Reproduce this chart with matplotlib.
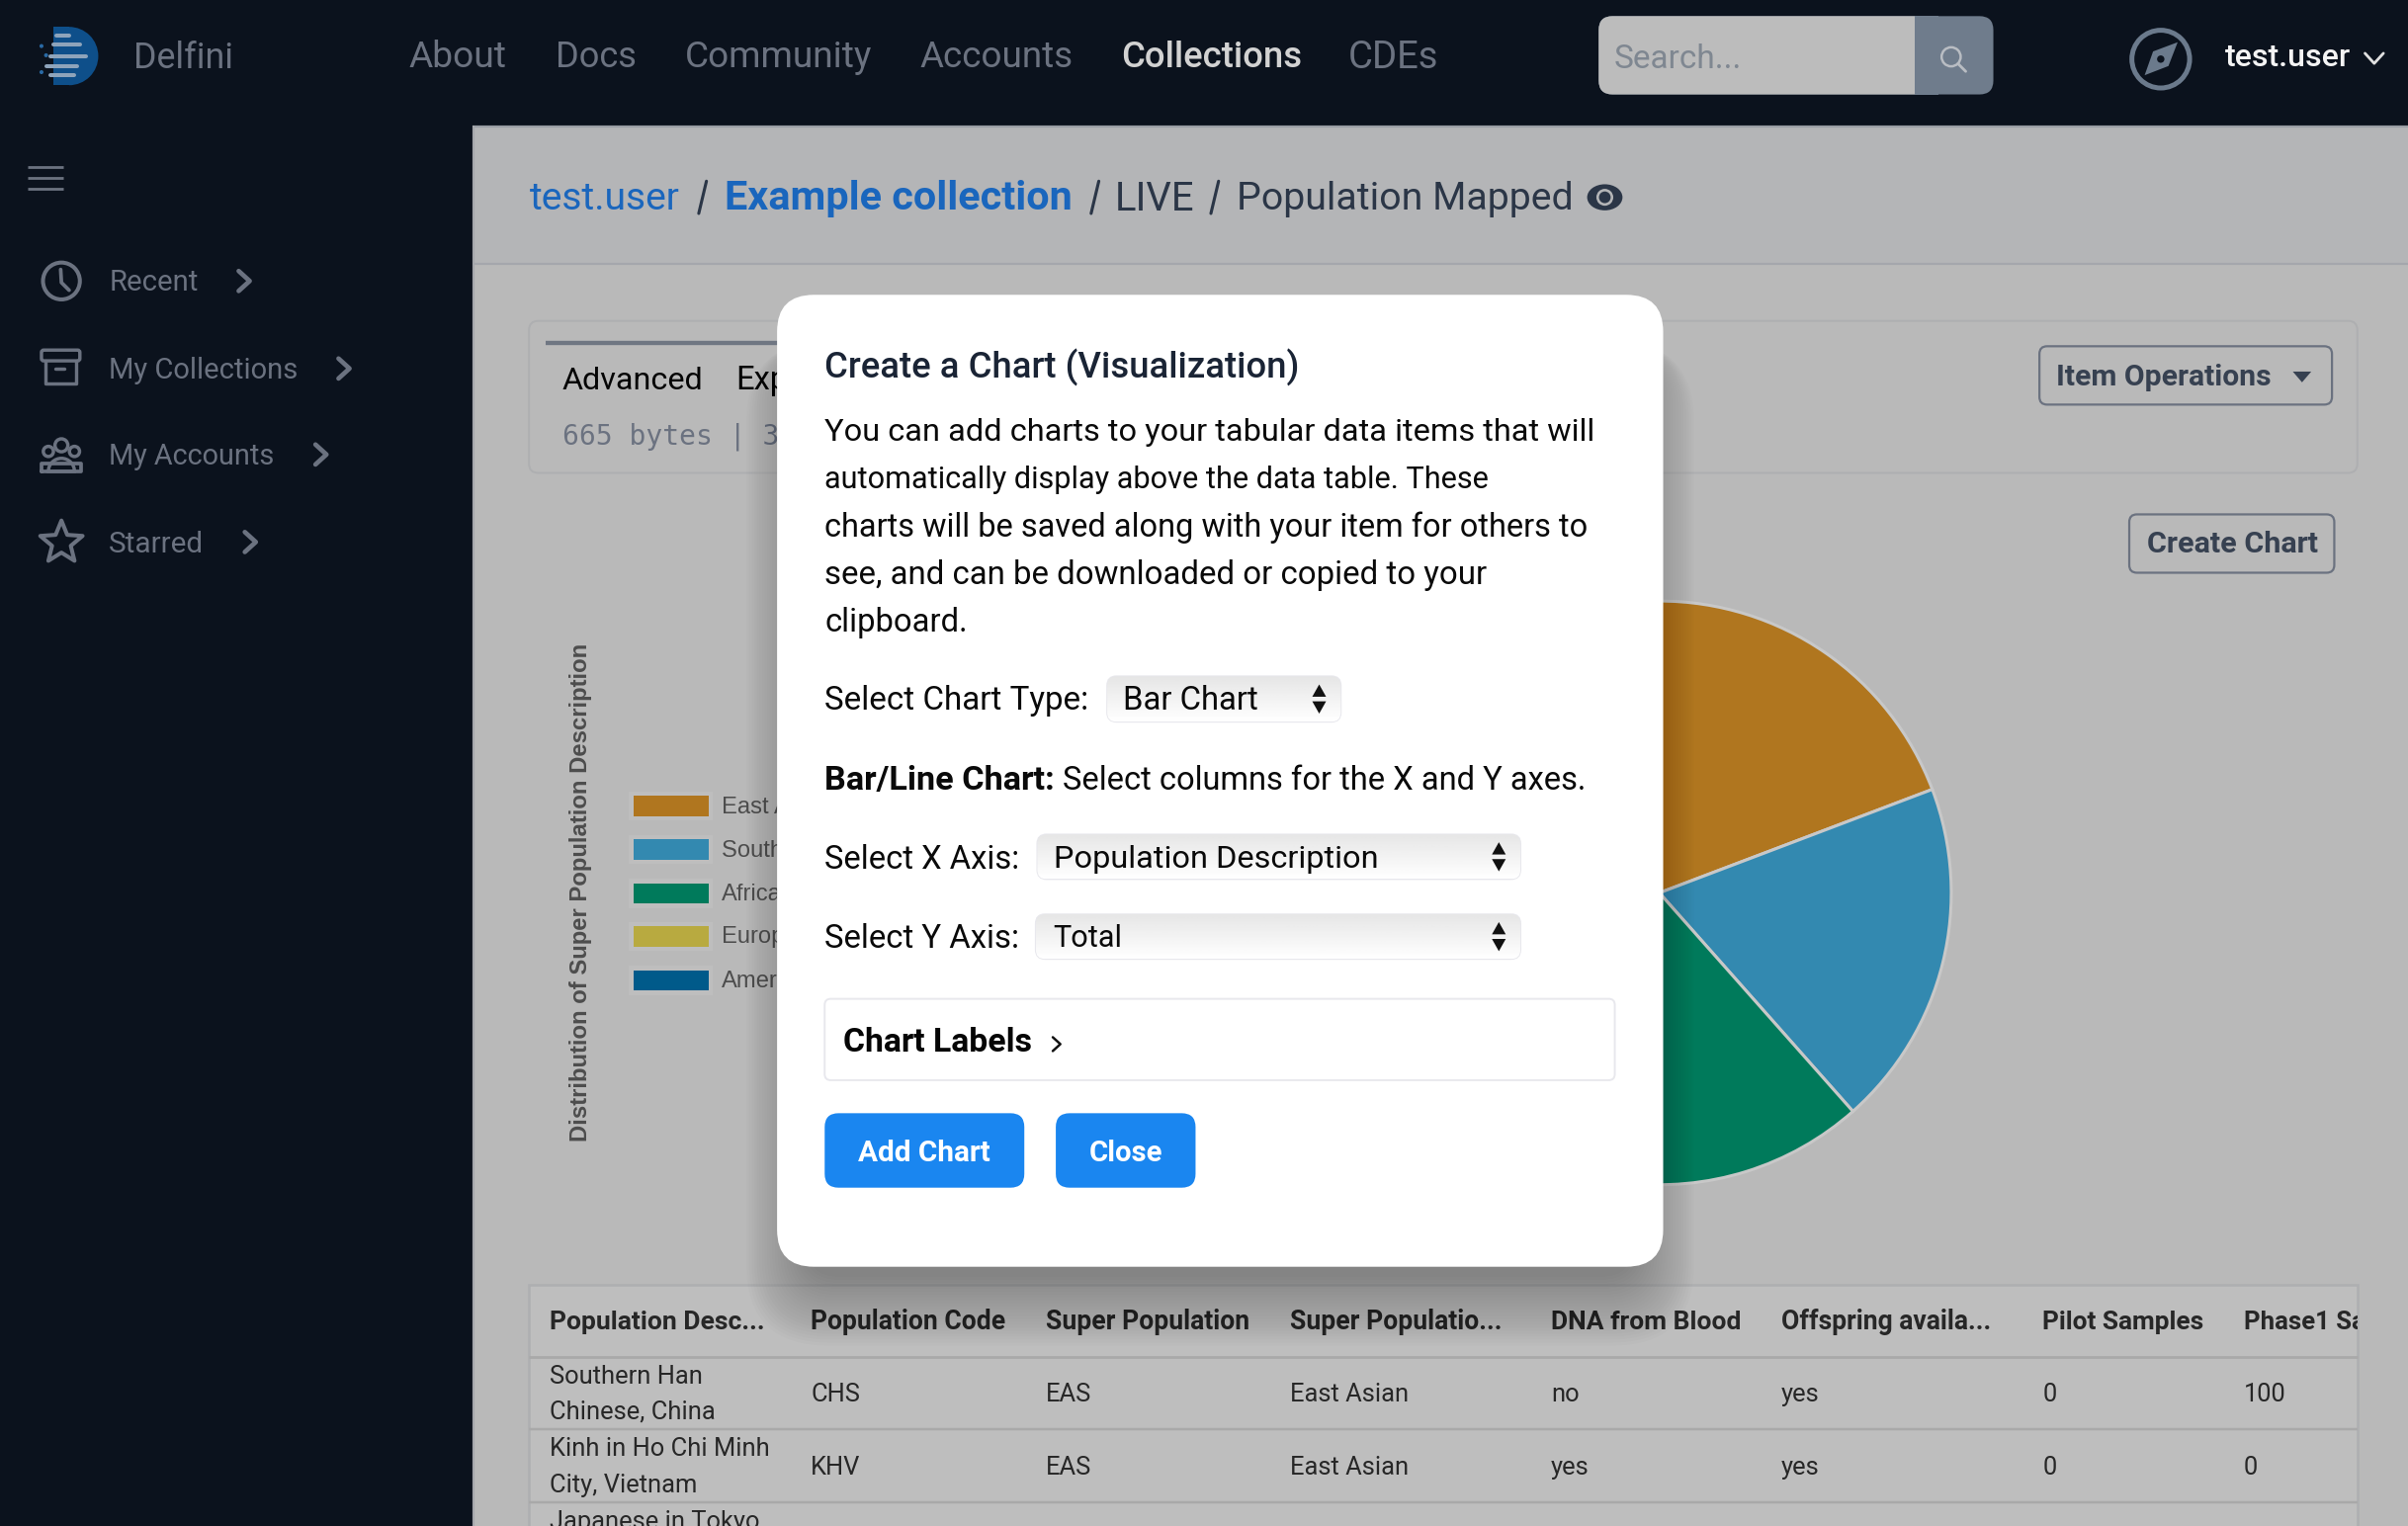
import numpy as np
import matplotlib
matplotlib.use("Agg")
import matplotlib.pyplot as plt
from matplotlib.patches import FancyBboxPatch, Rectangle, Circle, Wedge, Polygon, Ellipse

# ---------- chart data ----------
super_populations = ["East Asian", "South Asian", "African", "European", "American"]
population_counts = [5, 5, 7, 5, 4]
pie_colors = ["#b0761f", "#3389b0", "#007a5b", "#b8aa40", "#005a8a"]
chart_title = "Distribution of Super Population Description"

# ---------- interface text ----------
nav_labels = ["About", "Docs", "Community", "Accounts", "Collections", "CDEs"]
side_labels = ["Recent", "My Collections", "My Accounts", "Starred"]
modal_body = ["You can add charts to your tabular data items that will",
              "automatically display above the data table. These",
              "charts will be saved along with your item for others to",
              "see, and can be downloaded or copied to your",
              "clipboard."]
table_head = ["Population Desc...", "Population Code", "Super Population", "Super Populatio...",
              "DNA from Blood", "Offspring availa...", "Pilot Samples", "Phase1 Samples"]
row_1 = ["CHS", "EAS", "East Asian", "no", "yes", "0", "100"]
row_2 = ["KHV", "EAS", "East Asian", "yes", "yes", "0", "0"]

W, H = 2436, 1544
S = W / 1568.0          # reference layout was measured in 1568-wide units
DW, DH = 1568.0, H / S

UI = ["Roboto", "DejaVu Sans"]
plt.rcParams["font.family"] = UI
fig = plt.figure(figsize=(W / 100, H / 100), dpi=100, facecolor="#b9b9b9")
rend = fig.canvas.get_renderer()


def layer(z):
    a = fig.add_axes([0, 0, 1, 1], zorder=z)
    a.set_xlim(0, DW)
    a.set_ylim(DH, 0)
    a.axis("off")
    return a


bg = layer(0)
top = layer(2)


def T(ax, x, y, s, size=20, color="k", weight="normal", ha="left", va="center", w=None, family=None, **kw):
    fam = family or UI
    kw.setdefault("zorder", 6)
    off = 0.6 if size < 17 else 1.4
    t = ax.text(x, y + off, s, fontsize=size * S * 0.72, color=color, fontweight=weight,
                ha=ha, va=va, family=fam, **kw)
    if w is not None:
        bb = t.get_window_extent(rend)
        cur = max(bb.width, bb.height) / S
        t.set_fontsize(t.get_fontsize() * w / cur)
    return t


def R(ax, x0, y0, x1, y1, fc="none", ec="none", lw=0, rad=0, z=2, alpha=None):
    if rad:
        p = FancyBboxPatch((x0, y0), x1 - x0, y1 - y0, boxstyle=f"round,pad=0,rounding_size={rad}",
                           fc=fc, ec=ec, lw=lw, zorder=z, alpha=alpha)
    else:
        p = Rectangle((x0, y0), x1 - x0, y1 - y0, fc=fc, ec=ec, lw=lw, zorder=z, alpha=alpha)
    ax.add_patch(p)
    return p


def L(ax, xs, ys, color, lw=2.0, z=3, cap="round"):
    ax.plot(xs, ys, color=color, lw=lw * S * 0.72, zorder=z, solid_capstyle=cap, solid_joinstyle="round")


def chev(ax, x, y, color, s=5, lw=2.6, right=True):
    if right:
        L(ax, [x - s * 0.55, x + s * 0.55, x - s * 0.55], [y - s, y, y + s], color, lw)
    else:
        L(ax, [x - s, x, x + s], [y - s * 0.55, y + s * 0.55, y - s * 0.55], color, lw)


DARK = "#0b121d"
GREY = "#6b7280"

# ---------- page frame ----------
R(bg, 0, 0, DW, 82, fc=DARK, z=1)
R(bg, 0, 0, 308, DH, fc=DARK, z=1)
R(bg, 308, 82, DW, 172, fc="#b4b5b7", z=1)
L(bg, [308, DW], [82.5, 82.5], "#9a9ea5", 1.4, z=2, cap="butt")
L(bg, [308, DW], [172, 172], "#a5a7ac", 1.4, z=2, cap="butt")
L(bg, [308.5, 308.5], [82, DH], "#a5a7ac", 1.4, z=2, cap="butt")

# logo
bg.add_patch(Wedge((45, 36.5), 19, -90, 90, fc="#0e4f8a", zorder=3))
R(bg, 35, 17.5, 45, 55.5, fc="#0e4f8a", z=3)
for yy, a, b in [(23, 37, 45), (29, 35, 52), (36.5, 33, 56), (43, 30, 50), (49, 33, 48)]:
    L(bg, [a, b], [yy, yy], "#8ea4bb", 2.6, z=4)
for xx, yy in [(27, 30), (30, 36), (27, 47)]:
    bg.add_patch(Circle((xx, yy), 1.3, fc="#2a6aa5", zorder=4))

T(bg, 87, 36.5, "Delfini", 24, GREY, w=65)
nav_x = [266, 362, 446, 599, 730, 878]
nav_w = [64, 53, 122, 100, 118, 59]
for lab, x, wd in zip(nav_labels, nav_x, nav_w):
    act = lab == "Collections"
    T(bg, x, 36, lab, 23, "#d2d2d2" if act else GREY, weight="medium" if act else "normal", w=wd)

# search
R(bg, 1041, 10.5, 1298, 61.5, fc="#6f7c8c", rad=9, z=3)
R(bg, 1041, 10.5, 1260, 61.5, fc="#bcbcbc", rad=9, z=3)
R(bg, 1247, 10.5, 1262, 61.5, fc="#6f7c8c", z=3)
T(bg, 1051, 37, "Search...", 21, "#7f8791", w=83)
bg.add_patch(Circle((1270.5, 37), 6.2, fc="none", ec="#b9bdc3", lw=1.6 * S * .72, zorder=4))
L(bg, [1275, 1280], [41.5, 46.5], "#b9bdc3", 1.8, z=4)

# compass and user
bg.add_patch(Circle((1407, 38.5), 18.8, fc="none", ec="#6b7a8c", lw=3.2 * S * .72, zorder=4))
bg.add_patch(Polygon([(1418, 27.5), (1412, 43), (1396.5, 49), (1402, 33.5)], fc="#6b7a8c", zorder=4))
bg.add_patch(Circle((1407, 38.5), 2.4, fc=DARK, zorder=5))
T(bg, 1449, 36.5, "test.user", 21, "#f4f4f4", weight="medium", w=82)
chev(bg, 1546, 38, "#e0e0e0", s=6, lw=1.8, right=False)

# sidebar
for yy in (108.7, 115.8, 122.9):
    L(bg, [18, 41], [yy, yy], GREY, 1.8, cap="butt")
side_y = [183, 240, 296, 353]
side_w = [58, 123, 108, 62]
side_chev = [159, 224, 209, 163]
for lab, yy, wd, cx in zip(side_labels, side_y, side_w, side_chev):
    T(bg, 71, yy, lab, 19, GREY, w=wd)
    chev(bg, cx, yy, GREY, s=6.5, lw=3.0)
# clock
bg.add_patch(Circle((40, 183), 12, fc="none", ec=GREY, lw=2.6 * S * .72, zorder=3))
L(bg, [39.5, 40, 45], [175.5, 184, 189], GREY, 2.4)
# archive box
R(bg, 27, 228, 52, 235, ec=GREY, lw=2.2 * S * .72, rad=1.5, z=3)
L(bg, [29.5, 29.5, 49.5, 49.5], [235, 250, 250, 235], GREY, 2.2)
L(bg, [36, 42], [240, 240], GREY, 2.2)
# people
for cx, cy, r in [(40, 290, 4.2), (31.5, 294, 3.3), (48.5, 294, 3.3)]:
    bg.add_patch(Circle((cx, cy), r, fc="none", ec=GREY, lw=2.2 * S * .72, zorder=3))
L(bg, [27, 27, 53, 53, 27], [307, 302, 302, 307, 307], GREY, 2.4)
bg.add_patch(Wedge((40, 307), 8.5, 180, 360, fc="none", ec=GREY, lw=2.2 * S * .72, zorder=3))
# star
ang = np.deg2rad(np.arange(-90, 270, 36))
rad = np.where(np.arange(10) % 2 == 0, 14.5, 6.4)
bg.add_patch(Polygon(np.c_[40 + rad * np.cos(ang), 353.5 + rad * np.sin(ang)], fc="none", ec=GREY,
                     lw=2.6 * S * .72, joinstyle="round", zorder=3))

# breadcrumb
BLUE = "#1a66bd"
INK = "#2b3647"
T(bg, 345, 128, "test.user", 27, BLUE, w=98)
T(bg, 472, 128, "Example collection", 27, BLUE, weight="bold", w=226)
for xx in (457.5, 713, 791):
    L(bg, [xx - 2.5, xx + 2.5], [139, 118], INK, 2.0)
T(bg, 726, 128, "LIVE", 27, INK, w=52)
T(bg, 805, 128, "Population Mapped", 27, INK, w=219)
bg.add_patch(Ellipse((1045, 128.5), 23, 17, fc=INK, zorder=3))
bg.add_patch(Circle((1045, 128.5), 5.5, fc="#b4b5b7", zorder=4))
bg.add_patch(Circle((1045, 128.5), 3.8, fc=INK, zorder=5))

# card
R(bg, 344.5, 209, 1535, 308, fc="#b9b9b9", ec="#aeafb1", lw=1.4, rad=6, z=2)
L(bg, [355, 520], [223.5, 223.5], "#6f7682", 2.8, cap="butt")
T(bg, 366, 246.5, "Advanced", 21, "#050505", w=92)
T(bg, 479, 246.5, "Explo", 21, "#050505")
T(bg, 366, 283, "665 bytes | 3", 19, GREY, family=["DejaVu Sans Mono"], w=141)
R(bg, 1328, 225.5, 1518.5, 263.5, ec="#6b7280", lw=1.6, rad=5, z=3)
T(bg, 1339, 244.5, "Item Operations", 19.5, "#374151", weight="bold", w=140)
bg.add_patch(Polygon([(1493, 242), (1505, 242), (1499, 249)], fc="#374151", zorder=3))
R(bg, 1386.5, 335, 1520, 373, ec="#6b7280", lw=1.6, rad=5, z=3)
T(bg, 1398, 353.5, "Create Chart", 19.5, "#374151", weight="bold", w=111)

# chart title + legend
HELV = ["Liberation Sans", "DejaVu Sans"]
T(bg, 378, 580.5, chart_title, 15.5, "#4d4d4d", weight="bold", ha="center", rotation=90,
  rotation_mode="anchor", family=HELV, w=325)
leg_y = [525, 553.3, 581.9, 609.9, 638.4]
for lab, col, yy in zip(super_populations, pie_colors, leg_y):
    R(bg, 409.5, yy - 9.5, 464, yy + 9.5, fc="#bebebe", z=2)
    R(bg, 412.4, yy - 6.6, 461.3, yy + 6.6, fc=col, z=3)
    T(bg, 470, yy, lab, 15.3, "#4d4d4d", family=HELV)

# table
R(bg, 344.5, 837, 1535, DH + 5, fc="#bebebe", ec="#aeafb1", lw=1.8, z=2)
L(bg, [344.5, 1535], [883.5, 883.5], "#a9a9a9", 1.8, cap="butt")
L(bg, [344.5, 1535], [931, 931], "#a9a9a9", 1.6, cap="butt")
L(bg, [344.5, 1535], [978.5, 978.5], "#a9a9a9", 1.6, cap="butt")
col_x = [358, 528, 681, 840, 1010, 1160, 1330, 1461]
head_w = [140, 127, 133, 138, 124, 137, 105, None]
clip = Rectangle((344.5, 837), 1535 - 344.5, 200, transform=bg.transData)
for lab, x, wd in zip(table_head, col_x, head_w):
    t = T(bg, x, 860.5, lab, 16.6, "#272727", weight="bold", w=wd)
    t.set_clip_path(clip)
    t.set_clip_on(True)
for s, yy in [("Southern Han", 896), ("Chinese, China", 919), ("Kinh in Ho Chi Minh", 943),
              ("City, Vietnam", 967), ("Japanese in Tokyo,", 990.5)]:
    T(bg, 358, yy, s, 16.4, "#272727", clip_on=True)
for row, yy in [(row_1, 907.5), (row_2, 955)]:
    for s, x in zip(row, col_x[1:]):
        T(bg, x, yy, s, 16.4, "#272727")

# ---------- pie, drawn by the library ----------
cx, cy, r = 1080.5, 581.5, 192
pie_ax = fig.add_axes([(cx - r) / DW, 1 - (cy + r) / DH, 2 * r / DW, 2 * r / DH], zorder=1)
pie_ax.pie(population_counts, colors=pie_colors, startangle=90, counterclock=False, radius=1,
           wedgeprops=dict(edgecolor="#c8c8c8", linewidth=2.2))
pie_ax.set_xlim(-1.01, 1.01)
pie_ax.set_ylim(-1.01, 1.01)
pie_ax.patch.set_visible(False)

# ---------- modal ----------
mx0, my0, mx1, my1 = 506, 192, 1083, 825
for i in range(24):
    g = 36 - i * 1.7
    R(top, mx0 - g + 16, my0 + 30, mx1 + g - 16, my1 + 10 + g * 1.15, fc="#000000", rad=24 + g * 0.8,
      alpha=0.0105, z=1)
R(top, mx0, my0, mx1, my1, fc="white", rad=24, z=2)

T(top, 537, 238, "Create a Chart (Visualization)", 23.5, "#1a2435", weight="medium", w=309)
body_w = [500, 432, 497, 431, 93]
for s, yy, wd in zip(modal_body, [280, 311, 342, 373, 404], body_w):
    T(top, 537, yy, s, 21, "#0a0a0a", w=wd)


def select(x0, y0, x1, y1, text, tx, wd):
    box = R(top, x0, y0, x1, y1, fc="#f2f2f4", ec="#e8e8ed", lw=1.4, rad=6, z=3)
    im = top.imshow(np.linspace(0.90, 1.0, 32).reshape(-1, 1), extent=(x0, x1, y1, y0), cmap="gray",
                    vmin=0, vmax=1, aspect="auto", zorder=3.1)
    im.set_clip_path(box)
    T(top, tx, (y0 + y1) / 2, text, 21, "#0a0a0a", w=wd)
    ax_ = x1 - 14
    ym = (y0 + y1) / 2
    top.add_patch(Polygon([(ax_ - 4.5, ym - 1.5), (ax_ + 4.5, ym - 1.5), (ax_, ym - 9.5)], fc="#111", zorder=4))
    top.add_patch(Polygon([(ax_ - 4.5, ym + 1.5), (ax_ + 4.5, ym + 1.5), (ax_, ym + 9.5)], fc="#111", zorder=4))


T(top, 537, 455, "Select Chart Type:", 21, "#0a0a0a", w=172)
select(721, 440.5, 873, 470, "Bar Chart", 731, 88)
T(top, 537, 507, "Bar/Line Chart:", 21, "#0a0a0a", weight="bold", w=150)
T(top, 692, 507, "Select columns for the X and Y axes.", 21, "#0a0a0a", w=341)
T(top, 537, 558.5, "Select X Axis:", 21, "#0a0a0a", w=127)
select(675.5, 543.5, 990, 572.5, "Population Description", 686, 211)
T(top, 537, 610, "Select Y Axis:", 21, "#0a0a0a", w=127)
select(674.5, 595.5, 990, 624.5, "Total", 686, 45)

R(top, 537, 650.5, 1051.5, 703.5, fc="white", ec="#e8e8ed", lw=1.4, rad=4, z=3)
T(top, 549, 678, "Chart Labels", 21, "#050505", weight="bold", w=123)
chev(top, 688, 680, "#111111", s=4.5, lw=1.6)

BTN = "#1a86f0"
R(top, 537, 725, 667, 773.5, fc=BTN, rad=9, z=3)
R(top, 687.5, 725, 778.5, 773.5, fc=BTN, rad=9, z=3)
T(top, 602, 749.5, "Add Chart", 18.5, "white", weight="bold", ha="center", w=86)
T(top, 733, 749.5, "Close", 18.5, "white", weight="bold", ha="center", w=48)

for a in (bg, top):
    a.set_xlim(0, DW)
    a.set_ylim(DH, 0)

fig.savefig("out.png", dpi=100, facecolor=fig.get_facecolor())
